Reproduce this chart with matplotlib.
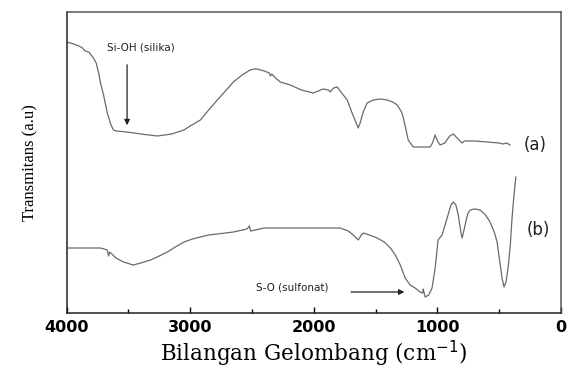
import matplotlib
matplotlib.use("Agg")
import matplotlib.pyplot as plt
from matplotlib.ticker import MultipleLocator

# ---- data (wavenumber cm^-1, transmittance a.u.) ----
wn_a = [4000, 3940, 3900, 3870, 3850, 3820, 3782, 3760, 3740, 3725, 3700, 3670,
        3640, 3620, 3600, 3510, 3400, 3265, 3150, 3050, 3000, 2917, 2850, 2780,
        2700, 2650, 2580, 2515, 2480, 2460, 2400, 2360, 2350, 2340, 2300, 2271,
        2190, 2100, 2004, 1923, 1880, 1867, 1840, 1810, 1780, 1729, 1690, 1660,
        1640, 1625, 1600, 1568, 1519, 1460, 1407, 1360, 1325, 1290, 1277, 1250,
        1236, 1196, 1120, 1059, 1040, 1018, 1000, 978, 940, 900, 871, 840,
        800, 780, 760, 700, 598, 500, 469, 440, 412]
t_a = [271, 269, 267, 265, 262, 261, 255, 250, 240, 230, 218, 200,
       188, 183, 182, 181, 179, 177, 179, 183, 187, 193, 203, 213,
       224, 231, 238, 243, 244, 244, 242, 240, 237, 239, 234, 231,
       228, 223, 220, 224, 223, 221, 225, 226, 221, 213, 200, 191,
       185, 190, 201, 210, 213, 214, 213, 211, 208, 201, 196, 181,
       173, 166, 166, 166, 170, 178, 172, 168, 170, 177, 179, 175,
       170, 172, 172, 172, 171, 170, 169, 170, 168]

wn_b = [4000, 3800, 3725, 3670, 3660, 3650, 3600, 3540, 3459, 3400, 3320, 3250,
        3184, 3120, 3050, 2980, 2917, 2850, 2780, 2650, 2540, 2520, 2510, 2400,
        2271, 2000, 1786, 1720, 1681, 1640, 1620, 1600, 1550, 1487, 1430, 1380,
        1340, 1300, 1261, 1220, 1180, 1140, 1120, 1115, 1099, 1070, 1043, 1018,
        994, 962, 921, 890, 871, 850, 831, 810, 800, 788, 776, 755,
        735, 700, 654, 610, 574, 540, 517, 495, 477, 461, 445, 428,
        410, 396, 384, 372, 365]
t_b = [65, 65, 65, 63, 57, 61, 55, 51, 48, 50, 53, 57,
       61, 66, 71, 74, 76, 78, 79, 81, 84, 87, 82, 85,
       85, 85, 85, 82, 78, 73, 77, 80, 78, 75, 71, 65,
       58, 48, 35, 28, 25, 21, 20, 24, 16, 18, 25, 45,
       73, 78, 95, 108, 111, 108, 98, 81, 75, 81, 88, 99,
       103, 104, 103, 98, 91, 81, 71, 51, 35, 26, 31, 45,
       68, 95, 113, 128, 136]

xticks = [4000, 3000, 2000, 1000, 0]
xtick_labels = ["4000", "3000", "2000", "1000", "0"]

fig = plt.figure(figsize=(5.69, 3.69), dpi=100)
ax = fig.add_axes([66.5 / 569, 56 / 369, (561 - 66.5) / 569, 301 / 369])

line_col = "#6a6a6a"
ax.plot(wn_a, t_a, color=line_col, lw=0.9)
ax.plot(wn_b, t_b, color=line_col, lw=0.9)

ax.set_xlim(4000, 0)
ax.set_ylim(0, 301)
ax.set_yticks([])
ax.set_xticks(xticks)
ax.set_xticklabels(xtick_labels, fontfamily="DejaVu Sans", fontweight="bold", fontsize=11.5)
ax.xaxis.set_minor_locator(MultipleLocator(500))
ax.tick_params(axis="x", which="major", direction="in", length=4, width=1, pad=5)
ax.tick_params(axis="x", which="minor", direction="in", length=3, width=1)
for s in ax.spines.values():
    s.set_linewidth(1.1)
    s.set_color("#222222")
ax.spines["top"].set_color("#555555")
ax.spines["right"].set_color("#555555")

ax.set_xlabel("Bilangan Gelombang (cm$^{-1}$)", fontfamily="DejaVu Serif", fontsize=15.5, labelpad=3)
ax.set_ylabel("Transmitans (a.u)", fontfamily="Liberation Serif", fontsize=12, labelpad=20)

ax.annotate("", xy=(3510, 185), xytext=(3510, 251),
            arrowprops=dict(arrowstyle="-|>", color="#222222", lw=0.9, mutation_scale=8))
ax.text(3402, 266, "Si-OH (silika)", fontsize=7.5, ha="center", va="center", color="#222222")

ax.annotate("", xy=(1244, 21), xytext=(1721, 21),
            arrowprops=dict(arrowstyle="-|>", color="#222222", lw=0.9, mutation_scale=8))
ax.text(2174, 25, "S-O (sulfonat)", fontsize=7.5, ha="center", va="center", color="#222222")

ax.text(210, 168, "(a)", fontsize=12, ha="center", va="center", color="#222222")
ax.text(186, 83, "(b)", fontsize=12, ha="center", va="center", color="#222222")

fig.savefig("out.png", dpi=100)
